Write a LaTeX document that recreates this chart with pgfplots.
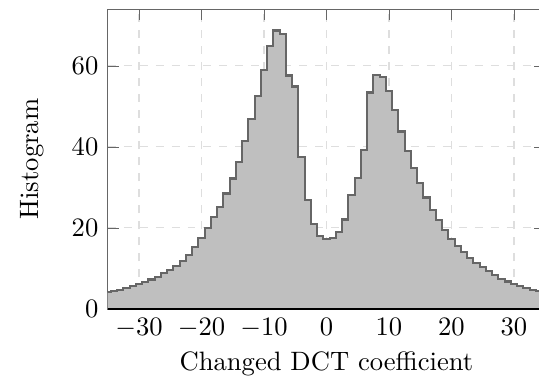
\documentclass[border=0pt]{standalone}
\usepackage{pgfplots}
\pgfplotsset{compat=1.18}
\usepackage{pgfplotstable}
\pgfplotstableread{
x y
-35.5 4.1
-34.5 4.4
-33.5 4.8
-32.5 5.2
-31.5 5.7
-30.5 6.2
-29.5 6.7
-28.5 7.3
-27.5 8.0
-26.5 8.8
-25.5 9.7
-24.5 10.7
-23.5 11.9
-22.5 13.4
-21.5 15.3
-20.5 17.6
-19.5 20.0
-18.5 22.6
-17.5 25.2
-16.5 28.5
-15.5 32.2
-14.5 36.2
-13.5 41.5
-12.5 46.8
-11.5 52.5
-10.5 59.0
-9.5 64.9
-8.5 68.7
-7.5 67.9
-6.5 57.6
-5.5 54.9
-4.5 37.5
-3.5 27.0
-2.5 21.0
-1.5 18.1
-0.5 17.3
0.5 17.6
1.5 19.0
2.5 22.1
3.5 28.2
4.5 32.3
5.5 39.3
6.5 53.4
7.5 57.8
8.5 57.2
9.5 53.7
10.5 49.2
11.5 43.8
12.5 39.0
13.5 34.8
14.5 31.0
15.5 27.5
16.5 24.5
17.5 21.9
18.5 19.5
19.5 17.3
20.5 15.5
21.5 14.0
22.5 12.6
23.5 11.3
24.5 10.3
25.5 9.3
26.5 8.4
27.5 7.5
28.5 6.8
29.5 6.2
30.5 5.6
31.5 5.2
32.5 4.8
33.5 4.5
34.5 4.3
35.5 4.3
}\histdata
\begin{document}
\begin{tikzpicture}
\begin{axis}[
  scale only axis,
  width=164.5pt, height=112.8pt,
  xmin=-35, xmax=35, ymin=0, ymax=74,
  xtick={-30,-20,...,30}, ytick={0,20,40,60},
  grid=major,
  major grid style={dashed, black!13},
  axis line style={black!60},
  tick style={black!60},
  xlabel={Changed DCT coefficient},
  ylabel={Histogram},
  ylabel shift=3.5pt,
  xlabel shift=-1.5pt,
]
\addplot[const plot, fill=lightgray, draw=black!60, line width=0.8pt] table[x=x,y=y] {\histdata} \closedcycle;
\draw[black, line width=0.6pt] (axis cs:-35,0) -- (axis cs:35,0);
\end{axis}
\pgfresetboundingbox
\path[use as bounding box] ([xshift=-40.5pt,yshift=-25.2pt]current axis.south west) rectangle ([xshift=-2.34pt,yshift=3.4pt]current axis.north east);
\end{tikzpicture}
\end{document}
